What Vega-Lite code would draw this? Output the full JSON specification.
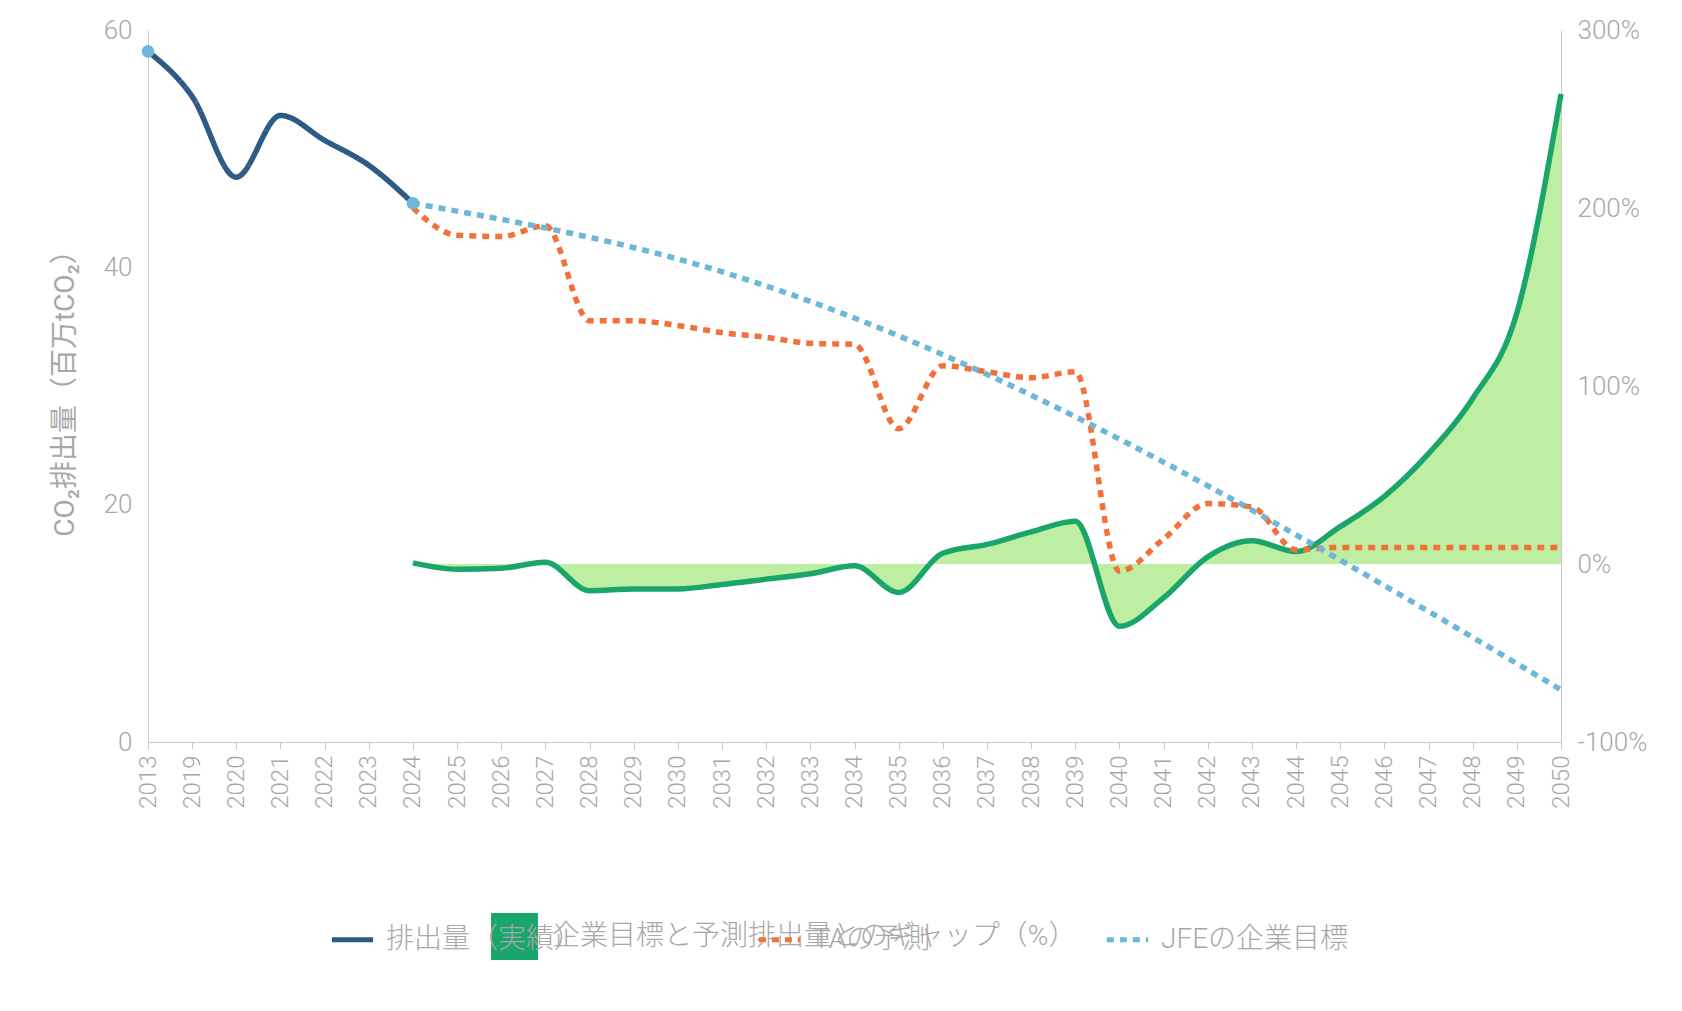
{
  "$schema": "https://vega.github.io/schema/vega-lite/v6.json",
  "width": 1413,
  "height": 712,
  "autosize": "none",
  "padding": {"left": 148, "top": 30, "right": 121, "bottom": 269},
  "background": "white",
  "config": {
    "font": "Roboto, Noto Sans CJK JP",
    "view": {"stroke": null},
    "axis": {"labelColor": "#a8a8a8", "titleColor": "#a8a8a8", "domainColor": "#c8c8c8", "tickColor": "#c8c8c8", "grid": false, "labelFontSize": 26, "titleFontWeight": "normal", "labelFontWeight": 300}
  },
  "datasets": {
    "lines": [
      {"year": "2013", "series": "排出量（実績）", "value": 58.2},
      {"year": "2019", "series": "排出量（実績）", "value": 54.4},
      {"year": "2020", "series": "排出量（実績）", "value": 47.6},
      {"year": "2021", "series": "排出量（実績）", "value": 52.8},
      {"year": "2022", "series": "排出量（実績）", "value": 50.7},
      {"year": "2023", "series": "排出量（実績）", "value": 48.6},
      {"year": "2024", "series": "排出量（実績）", "value": 45.4},
      {"year": "2024", "series": "TAの予測", "value": 45.0},
      {"year": "2025", "series": "TAの予測", "value": 42.7},
      {"year": "2026", "series": "TAの予測", "value": 42.6},
      {"year": "2027", "series": "TAの予測", "value": 43.5},
      {"year": "2028", "series": "TAの予測", "value": 35.5},
      {"year": "2029", "series": "TAの予測", "value": 35.5},
      {"year": "2030", "series": "TAの予測", "value": 35.1},
      {"year": "2031", "series": "TAの予測", "value": 34.5},
      {"year": "2032", "series": "TAの予測", "value": 34.1},
      {"year": "2033", "series": "TAの予測", "value": 33.6},
      {"year": "2034", "series": "TAの予測", "value": 33.5},
      {"year": "2035", "series": "TAの予測", "value": 26.4},
      {"year": "2036", "series": "TAの予測", "value": 31.7},
      {"year": "2037", "series": "TAの予測", "value": 31.2},
      {"year": "2038", "series": "TAの予測", "value": 30.7},
      {"year": "2039", "series": "TAの予測", "value": 31.2},
      {"year": "2040", "series": "TAの予測", "value": 14.4},
      {"year": "2041", "series": "TAの予測", "value": 17.1},
      {"year": "2042", "series": "TAの予測", "value": 20.1},
      {"year": "2043", "series": "TAの予測", "value": 19.8},
      {"year": "2044", "series": "TAの予測", "value": 16.2},
      {"year": "2045", "series": "TAの予測", "value": 16.4},
      {"year": "2046", "series": "TAの予測", "value": 16.4},
      {"year": "2047", "series": "TAの予測", "value": 16.4},
      {"year": "2048", "series": "TAの予測", "value": 16.4},
      {"year": "2049", "series": "TAの予測", "value": 16.4},
      {"year": "2050", "series": "TAの予測", "value": 16.4},
      {"year": "2024", "series": "JFEの企業目標", "value": 45.4},
      {"year": "2030", "series": "JFEの企業目標", "value": 40.7},
      {"year": "2050", "series": "JFEの企業目標", "value": 4.4}
    ],
    "gap": [
      {"year": "2024", "gap": 0.6, "lbl": "企業目標と予測排出量とのギャップ（%）"},
      {"year": "2025", "gap": -3, "lbl": "企業目標と予測排出量とのギャップ（%）"},
      {"year": "2026", "gap": -2.4, "lbl": "企業目標と予測排出量とのギャップ（%）"},
      {"year": "2027", "gap": 1, "lbl": "企業目標と予測排出量とのギャップ（%）"},
      {"year": "2028", "gap": -15, "lbl": "企業目標と予測排出量とのギャップ（%）"},
      {"year": "2029", "gap": -14, "lbl": "企業目標と予測排出量とのギャップ（%）"},
      {"year": "2030", "gap": -14, "lbl": "企業目標と予測排出量とのギャップ（%）"},
      {"year": "2031", "gap": -11.5, "lbl": "企業目標と予測排出量とのギャップ（%）"},
      {"year": "2032", "gap": -8.5, "lbl": "企業目標と予測排出量とのギャップ（%）"},
      {"year": "2033", "gap": -5.5, "lbl": "企業目標と予測排出量とのギャップ（%）"},
      {"year": "2034", "gap": -1, "lbl": "企業目標と予測排出量とのギャップ（%）"},
      {"year": "2035", "gap": -16, "lbl": "企業目標と予測排出量とのギャップ（%）"},
      {"year": "2036", "gap": 6, "lbl": "企業目標と予測排出量とのギャップ（%）"},
      {"year": "2037", "gap": 11, "lbl": "企業目標と予測排出量とのギャップ（%）"},
      {"year": "2038", "gap": 18, "lbl": "企業目標と予測排出量とのギャップ（%）"},
      {"year": "2039", "gap": 24, "lbl": "企業目標と予測排出量とのギャップ（%）"},
      {"year": "2040", "gap": -35, "lbl": "企業目標と予測排出量とのギャップ（%）"},
      {"year": "2041", "gap": -19, "lbl": "企業目標と予測排出量とのギャップ（%）"},
      {"year": "2042", "gap": 4, "lbl": "企業目標と予測排出量とのギャップ（%）"},
      {"year": "2043", "gap": 13, "lbl": "企業目標と予測排出量とのギャップ（%）"},
      {"year": "2044", "gap": 7, "lbl": "企業目標と予測排出量とのギャップ（%）"},
      {"year": "2045", "gap": 21, "lbl": "企業目標と予測排出量とのギャップ（%）"},
      {"year": "2046", "gap": 38, "lbl": "企業目標と予測排出量とのギャップ（%）"},
      {"year": "2047", "gap": 62, "lbl": "企業目標と予測排出量とのギャップ（%）"},
      {"year": "2048", "gap": 93, "lbl": "企業目標と予測排出量とのギャップ（%）"},
      {"year": "2049", "gap": 141, "lbl": "企業目標と予測排出量とのギャップ（%）"},
      {"year": "2050", "gap": 264, "lbl": "企業目標と予測排出量とのギャップ（%）"}
    ]
  },
  "encoding": {
    "x": {
      "field": "year", "type": "ordinal",
      "scale": {"type": "point", "padding": 0, "domain": ["2013","2019","2020","2021","2022","2023","2024","2025","2026","2027","2028","2029","2030","2031","2032","2033","2034","2035","2036","2037","2038","2039","2040","2041","2042","2043","2044","2045","2046","2047","2048","2049","2050"]},
      "axis": {"title": null, "labelAngle": -90, "labelFontSize": 24, "tickSize": 7, "labelPadding": 6}
    }
  },
  "layer": [
    {
      "data": {"name": "gap"},
      "layer": [
        {
          "mark": {"type": "area", "interpolate": "monotone", "color": "#bdeea2"},
          "encoding": {
            "y": {"field": "gap", "type": "quantitative", "scale": {"domain": [-100, 300]},
              "axis": {"orient": "right", "title": null, "values": [-100, 0, 100, 200, 300], "labelExpr": "datum.value + '%'", "ticks": false, "labelPadding": 16}},
            "y2": {"datum": 0}
          }
        },
        {
          "mark": {"type": "line", "interpolate": "monotone", "color": "#1aa66b", "strokeWidth": 5.5},
          "encoding": {"y": {"field": "gap", "type": "quantitative"}}
        },
        {
          "mark": {"type": "square", "size": 0, "opacity": 0},
          "encoding": {
            "y": {"field": "gap", "type": "quantitative"},
            "fill": {"field": "lbl", "type": "nominal", "scale": {"range": ["#1aa66b"]},
              "legend": {"orient": "none", "legendX": 343, "legendY": 883, "title": null, "symbolType": "square", "symbolSize": 2200, "symbolOpacity": 1, "symbolStrokeWidth": 0, "labelFontSize": 28, "labelColor": "#a8a8a8", "labelFontWeight": 300, "labelLimit": 0, "labelOffset": 14}}
          }
        }
      ]
    },
    {
      "data": {"name": "lines"},
      "layer": [
        {
          "mark": {"type": "line", "interpolate": "monotone", "strokeWidth": 5.5},
          "encoding": {
            "y": {"field": "value", "type": "quantitative", "scale": {"domain": [0, 60]},
              "axis": {"title": "CO₂排出量（百万tCO₂）", "titleFontSize": 28, "values": [0, 20, 40, 60], "ticks": false, "labelPadding": 16, "titlePadding": 24}},
            "color": {"field": "series", "type": "nominal",
              "scale": {"domain": ["排出量（実績）", "TAの予測", "JFEの企業目標"], "range": ["#2d5b86", "#f2713a", "#6db8d8"]},
              "legend": {"orient": "none", "legendX": 181, "legendY": 886, "direction": "horizontal", "title": null, "symbolType": "stroke", "symbolSize": 1700, "symbolStrokeWidth": 5, "labelFontSize": 28, "labelColor": "#a8a8a8", "labelFontWeight": 300, "labelLimit": 0, "columnPadding": 165, "labelOffset": 10}},
            "strokeDash": {"field": "series", "type": "nominal",
              "scale": {"domain": ["排出量（実績）", "TAの予測", "JFEの企業目標"], "range": [[1, 0], [7, 6], [7, 6]]}, "legend": null}
          }
        },
        {
          "transform": [{"filter": "datum.series == '排出量（実績）' && (datum.year == '2013' || datum.year == '2024')"}],
          "mark": {"type": "circle", "size": 160, "color": "#6db8d8", "opacity": 1},
          "encoding": {"y": {"field": "value", "type": "quantitative"}}
        }
      ]
    }
  ],
  "resolve": {"scale": {"y": "independent"}}
}
